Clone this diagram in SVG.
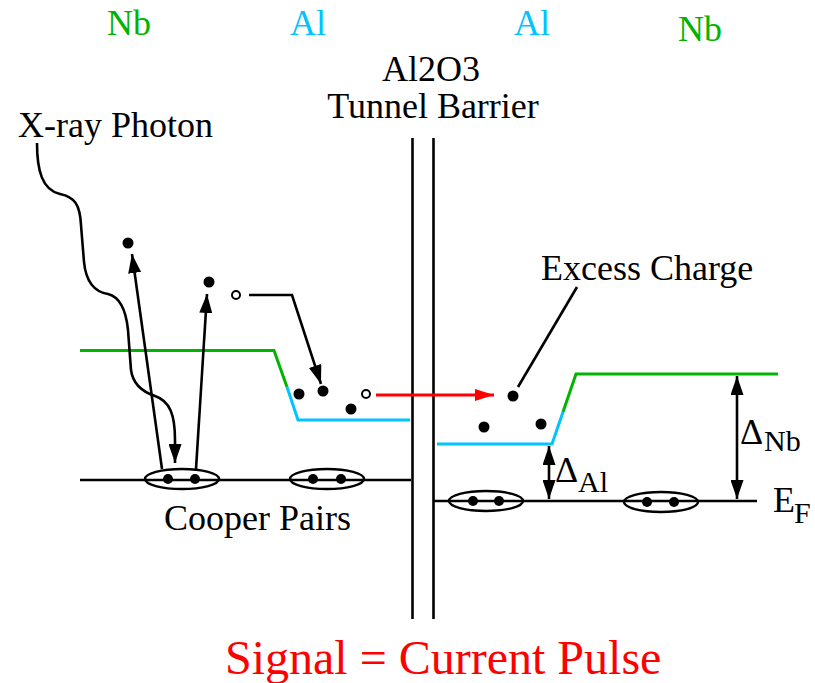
<svg xmlns="http://www.w3.org/2000/svg" width="815" height="683" viewBox="0 0 815 683">
<defs>
<style>
.t36{font-size:36px}
.nb{fill:#00b400}
.al{fill:#00c3ff}
.ln{stroke:#000;stroke-width:2.6;fill:none}
.gr{stroke:#00b400;stroke-width:3;fill:none}
.cy{stroke:#00c3ff;stroke-width:3;fill:none}
.dot{fill:#000}
.hole{fill:#fff;stroke:#000;stroke-width:2}
.pair{fill:none;stroke:#000;stroke-width:2.4}
</style>
<marker id="ah" markerUnits="userSpaceOnUse" markerWidth="20" markerHeight="13" refX="19" refY="6.5" orient="auto-start-reverse">
<path d="M0,0 L19,6.5 L0,13 z" fill="#000"/>
</marker>
<marker id="ahr" markerUnits="userSpaceOnUse" markerWidth="20" markerHeight="12" refX="19" refY="6" orient="auto">
<path d="M0,0 L19,6 L0,12 z" fill="#f00"/>
</marker>
</defs>

<g id="labels">
<text font-family="Liberation Serif" class="t36 nb" x="107" y="35">Nb</text>
<text font-family="Liberation Serif" class="t36 al" x="290" y="35">Al</text>
<text font-family="Liberation Serif" class="t36 al" x="514" y="35">Al</text>
<text font-family="Liberation Serif" class="t36 nb" x="678" y="41">Nb</text>
<text font-family="Liberation Serif" class="t36" x="431" y="81" text-anchor="middle">Al2O3</text>
<text font-family="Liberation Serif" class="t36" x="433" y="118" text-anchor="middle">Tunnel Barrier</text>
<text font-family="Liberation Serif" class="t36" x="18" y="137">X-ray Photon</text>
<text font-family="Liberation Serif" class="t36" x="164" y="530">Cooper Pairs</text>
<text font-family="Liberation Serif" class="t36" x="541" y="280">Excess Charge</text>
<text font-family="Liberation Serif" x="225" y="674" font-size="48" fill="#f00">Signal = Current Pulse</text>
<text font-family="Liberation Serif" x="740" y="444" font-size="36">Δ<tspan x="764" y="451" font-size="30">Nb</tspan></text>
<text font-family="Liberation Serif" x="555" y="482" font-size="36">Δ<tspan x="578" y="492" font-size="30">Al</tspan></text>
<text font-family="Liberation Serif" x="773" y="512" font-size="36">E<tspan x="794" y="523" font-size="30">F</tspan></text>
</g>

<g id="barrier">
<line class="ln" x1="412.5" y1="138" x2="412.5" y2="619"/>
<line class="ln" x1="433.5" y1="138" x2="433.5" y2="619"/>
</g>

<g id="left-levels">
<polyline class="gr" points="80,350.5 274,350.5 287,387"/>
<polyline class="cy" points="287,387 298,420 410,420"/>
<line class="ln" x1="80" y1="480" x2="411" y2="480"/>
</g>

<g id="right-levels">
<polyline class="cy" points="437,444 552,444 563,412"/>
<polyline class="gr" points="563,412 576,374 778,374"/>
<line class="ln" x1="433" y1="501" x2="757" y2="501"/>
</g>

<g id="cooper-pairs">
<ellipse class="pair" cx="182" cy="479" rx="37" ry="10"/>
<circle class="dot" cx="168" cy="479" r="5"/>
<circle class="dot" cx="195" cy="479" r="5"/>
<ellipse class="pair" cx="327" cy="479" rx="37" ry="10"/>
<circle class="dot" cx="313" cy="479" r="5"/>
<circle class="dot" cx="341" cy="479" r="5"/>
<ellipse class="pair" cx="486" cy="501" rx="37" ry="10"/>
<circle class="dot" cx="473" cy="501" r="5"/>
<circle class="dot" cx="499" cy="501" r="5"/>
<ellipse class="pair" cx="661" cy="502" rx="37" ry="10"/>
<circle class="dot" cx="647" cy="502" r="5"/>
<circle class="dot" cx="674" cy="502" r="5"/>
</g>

<g id="quasiparticles">
<circle class="dot" cx="128" cy="243" r="5.5"/>
<circle class="dot" cx="209" cy="282" r="5.5"/>
<circle class="hole" cx="236" cy="295" r="4"/>
<circle class="dot" cx="299" cy="394" r="5.5"/>
<circle class="dot" cx="323" cy="391" r="5.5"/>
<circle class="dot" cx="351" cy="409" r="5.5"/>
<circle class="hole" cx="366" cy="394" r="4"/>
<circle class="dot" cx="513" cy="396" r="5.5"/>
<circle class="dot" cx="484" cy="427" r="5.5"/>
<circle class="dot" cx="541" cy="424" r="5.5"/>
</g>

<g id="connectors">
<path class="ln" d="M37,143 C37,170 42,190 60,194 C75,197 80,205 81,225 L84,262 C86,282 95,292 108,294 C120,297 126,310 128,330 L131,370 C133,385 143,392 155,396 C170,401 175,415 175,440 L175,463" marker-end="url(#ah)"/>
<line class="ln" x1="162" y1="469" x2="132" y2="254" marker-end="url(#ah)"/>
<line class="ln" x1="196" y1="469" x2="207" y2="294" marker-end="url(#ah)"/>
<polyline class="ln" points="249,295 292,295 321,384" marker-end="url(#ah)"/>
<line x1="376" y1="395" x2="494" y2="395" stroke="#f00" stroke-width="3" marker-end="url(#ahr)"/>
<line class="ln" x1="577" y1="287" x2="518" y2="387"/>
<line class="ln" x1="549" y1="446" x2="549" y2="499" marker-start="url(#ah)" marker-end="url(#ah)"/>
<line class="ln" x1="737" y1="376" x2="737" y2="499" marker-start="url(#ah)" marker-end="url(#ah)"/>
</g>
</svg>
